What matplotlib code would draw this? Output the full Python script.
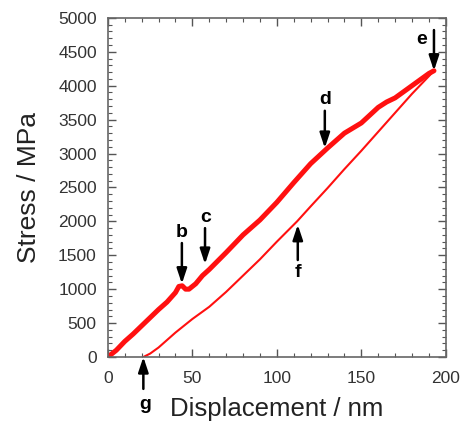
import matplotlib.pyplot as plt
from matplotlib.ticker import MultipleLocator

plt.rcParams['font.family'] = ['Liberation Sans', 'DejaVu Sans']

# loading branch (thick)
load_x = [0, 5, 10, 15, 20, 25, 30, 35, 40, 42, 44, 46, 48, 52, 56, 60, 70, 80, 90,
          100, 110, 120, 130, 140, 150, 160, 165, 170, 180, 190, 193]
load_y = [0, 100, 230, 340, 460, 580, 700, 810, 950, 1040, 1050, 1000, 1000, 1080, 1200,
          1290, 1540, 1800, 2020, 2280, 2570, 2850, 3080, 3300, 3450, 3680, 3760, 3820,
          4000, 4180, 4220]

# unloading branch (thin)
unload_x = [193, 190, 180, 170, 160, 150, 140, 130, 120, 112, 100, 90, 80, 70, 60, 55,
            50, 45, 40, 35, 30, 25, 21]
unload_y = [4220, 4140, 3880, 3600, 3320, 3040, 2770, 2490, 2220, 2000, 1700, 1440, 1200,
            960, 740, 650, 560, 460, 360, 250, 140, 50, 0]

# labels: (letter, text x, text y, arrow start y, arrow tip x, arrow tip y)
labels = ['b', 'c', 'd', 'e', 'f', 'g']
label_x = [43.8, 58, 128.4, 185.5, 112.4, 22]
label_y = [1830, 2050, 3790, 4680, 1250, -700]
arrow_from = [1680, 1900, 3630, 4820, 1430, -470]
arrow_x = [43.8, 57.5, 128.4, 193, 112.4, 21]
arrow_to = [1080, 1370, 3080, 4220, 1950, 0]

fig = plt.figure(figsize=(4.61, 4.25), dpi=100)
ax = fig.add_axes([0.234, 0.16, 0.733, 0.798])

ax.plot(load_x, load_y, color='#ff1010', lw=3.6, solid_capstyle='round')
ax.plot(unload_x, unload_y, color='#ff1010', lw=1.5)

for i in range(len(labels)):
    ax.annotate('', xy=(arrow_x[i], arrow_to[i]), xytext=(arrow_x[i], arrow_from[i]),
                arrowprops=dict(arrowstyle='-|>,head_length=0.9,head_width=0.3',
                                color='black', lw=1.8, shrinkA=0, shrinkB=0),
                annotation_clip=False)
    ax.text(label_x[i], label_y[i], labels[i], fontsize=14, fontweight='bold',
            ha='center', va='center', clip_on=False)

ax.set_xlim(0, 200)
ax.set_ylim(0, 5000)
ax.xaxis.set_major_locator(MultipleLocator(50))
ax.xaxis.set_minor_locator(MultipleLocator(10))
ax.yaxis.set_major_locator(MultipleLocator(500))
ax.yaxis.set_minor_locator(MultipleLocator(100))
ax.tick_params(which='both', direction='in', top=True, right=True, colors='#555555',
               labelcolor='#333333', labelsize=12.5)
ax.tick_params(which='major', length=6, width=1)
ax.tick_params(which='minor', length=3, width=0.8)
ax.tick_params(axis='x', pad=10)
ax.tick_params(axis='y', pad=8)
for s in ax.spines.values():
    s.set_color('#666666')
    s.set_linewidth(1.2)

ax.set_xlabel('Displacement / nm', fontsize=18.5, color='#222222', labelpad=8)
ax.set_ylabel('Stress / MPa', fontsize=19, color='#222222', labelpad=12)

plt.savefig('out.png', dpi=100)
